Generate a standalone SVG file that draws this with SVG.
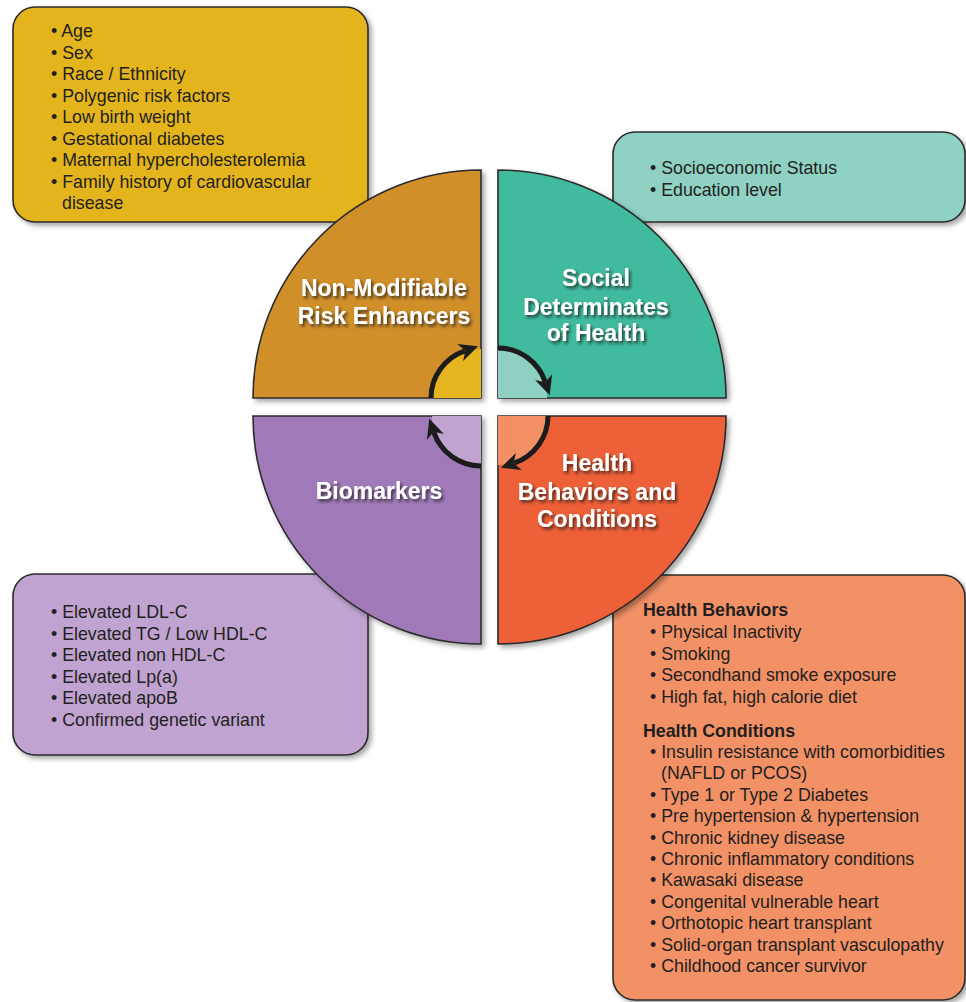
<svg xmlns="http://www.w3.org/2000/svg" width="966" height="1002" viewBox="0 0 966 1002">
<defs>
<filter id="sh" x="-10%" y="-10%" width="125%" height="125%">
<feDropShadow dx="3" dy="3" stdDeviation="2.5" flood-color="#000" flood-opacity="0.35"/>
</filter>
<filter id="tsh" x="-10%" y="-30%" width="130%" height="170%">
<feDropShadow dx="2" dy="2.5" stdDeviation="1.8" flood-color="#1a1a1a" flood-opacity="0.75"/>
</filter>
<marker id="ah" markerUnits="userSpaceOnUse" markerWidth="22" markerHeight="22" viewBox="0 0 22 22" refX="5" refY="11" orient="auto">
<path d="M0,2 L19,11 L0,20 L5.5,11 Z" fill="#1c1c1c"/>
</marker>
<style>
.box{stroke:#2b2b2b;stroke-width:1.6}
.q{stroke:#2b2b2b;stroke-width:1.6}
.t{font-family:"Liberation Sans",Arial,sans-serif;font-size:17.8px;fill:#231f20}
.b{font-weight:bold}
.lbl{font-family:"Liberation Sans",Arial,sans-serif;font-size:23px;font-weight:bold;fill:#ffffff;text-anchor:middle}
.arc{fill:none;stroke:#1c1c1c;stroke-width:5;marker-end:url(#ah)}
</style>
</defs>
<rect width="966" height="1002" fill="#ffffff"/>

<g id="box-nonmod">
<rect class="box" x="13" y="7" width="355" height="215" rx="22" fill="#e3b41f" filter="url(#sh)"/>
<text class="t" x="51" y="37">• Age</text>
<text class="t" x="51" y="58.5">• Sex</text>
<text class="t" x="51" y="80">• Race / Ethnicity</text>
<text class="t" x="51" y="101.5">• Polygenic risk factors</text>
<text class="t" x="51" y="123">• Low birth weight</text>
<text class="t" x="51" y="144.5">• Gestational diabetes</text>
<text class="t" x="51" y="166">• Maternal hypercholesterolemia</text>
<text class="t" x="51" y="187.5">• Family history of cardiovascular</text>
<text class="t" x="62" y="209">disease</text>
</g>

<g id="box-social">
<rect class="box" x="613" y="132" width="352" height="90" rx="22" fill="#8fd1c3" filter="url(#sh)"/>
<text class="t" x="650" y="174">• Socioeconomic Status</text>
<text class="t" x="650" y="196">• Education level</text>
</g>

<g id="box-bio">
<rect class="box" x="13" y="574" width="355" height="181" rx="22" fill="#c0a3d0" filter="url(#sh)"/>
<text class="t" x="51" y="618">• Elevated LDL-C</text>
<text class="t" x="51" y="639.5">• Elevated TG / Low HDL-C</text>
<text class="t" x="51" y="661">• Elevated non HDL-C</text>
<text class="t" x="51" y="682.5">• Elevated Lp(a)</text>
<text class="t" x="51" y="704">• Elevated apoB</text>
<text class="t" x="51" y="725.5">• Confirmed genetic variant</text>
</g>

<g id="box-health">
<rect class="box" x="613" y="575" width="352" height="425" rx="22" fill="#f29166" filter="url(#sh)"/>
<text class="t b" x="643" y="616">Health Behaviors</text>
<text class="t" x="650" y="638">• Physical Inactivity</text>
<text class="t" x="650" y="659.5">• Smoking</text>
<text class="t" x="650" y="681">• Secondhand smoke exposure</text>
<text class="t" x="650" y="702.5">• High fat, high calorie diet</text>
<text class="t b" x="643" y="737">Health Conditions</text>
<text class="t" x="650" y="758">• Insulin resistance with comorbidities</text>
<text class="t" x="661" y="779.4">(NAFLD or PCOS)</text>
<text class="t" x="650" y="800.8">• Type 1 or Type 2 Diabetes</text>
<text class="t" x="650" y="822.2">• Pre hypertension &amp; hypertension</text>
<text class="t" x="650" y="843.6">• Chronic kidney disease</text>
<text class="t" x="650" y="865">• Chronic inflammatory conditions</text>
<text class="t" x="650" y="886.4">• Kawasaki disease</text>
<text class="t" x="650" y="907.8">• Congenital vulnerable heart</text>
<text class="t" x="650" y="929.2">• Orthotopic heart transplant</text>
<text class="t" x="650" y="950.6">• Solid-organ transplant vasculopathy</text>
<text class="t" x="650" y="972">• Childhood cancer survivor</text>
</g>

<g id="q-nonmod">
<path class="q" d="M481,398 L253,398 A228,228 0 0 1 481,170 Z" fill="#d18f2a" filter="url(#sh)"/>
<path d="M481,398 L432,398 A49,49 0 0 1 481,349 Z" fill="#e5b41e"/>
<text class="lbl" x="384" y="296" filter="url(#tsh)">Non-Modifiable</text>
<text class="lbl" x="384" y="324" filter="url(#tsh)">Risk Enhancers</text>
</g>

<g id="q-social">
<path class="q" d="M498,398 L498,170 A228,228 0 0 1 726,398 Z" fill="#40bb9d" filter="url(#sh)"/>
<path d="M498,398 L498,349 A49,49 0 0 1 547,398 Z" fill="#8ed1c2"/>
<text class="lbl" x="596" y="286" filter="url(#tsh)">Social</text>
<text class="lbl" x="596" y="315" filter="url(#tsh)">Determinates</text>
<text class="lbl" x="596" y="341" filter="url(#tsh)">of Health</text>
</g>

<g id="q-health">
<path class="q" d="M498,416 L726,416 A228,228 0 0 1 498,644 Z" fill="#ee6039" filter="url(#sh)"/>
<path d="M498,416 L547,416 A49,49 0 0 1 498,465 Z" fill="#f39066"/>
<text class="lbl" x="597" y="471" filter="url(#tsh)">Health</text>
<text class="lbl" x="597" y="500" filter="url(#tsh)">Behaviors and</text>
<text class="lbl" x="597" y="527" filter="url(#tsh)">Conditions</text>
</g>

<g id="q-bio">
<path class="q" d="M481,416 L481,644 A228,228 0 0 1 253,416 Z" fill="#a07ab8" filter="url(#sh)"/>
<path d="M481,416 L481,465 A49,49 0 0 1 432,416 Z" fill="#c1a3d0"/>
<text class="lbl" x="379" y="499" filter="url(#tsh)">Biomarkers</text>
</g>

<g id="connectors">
<path class="arc" d="M431,398 A50,50 0 0 1 464.9,350.8"/>
<path class="arc" d="M498,348 A50,50 0 0 1 545.2,381.9"/>
<path class="arc" d="M548,416 A50,50 0 0 1 514.1,463.2"/>
<path class="arc" d="M481,466 A50,50 0 0 1 433.8,432.1"/>
</g>
</svg>
